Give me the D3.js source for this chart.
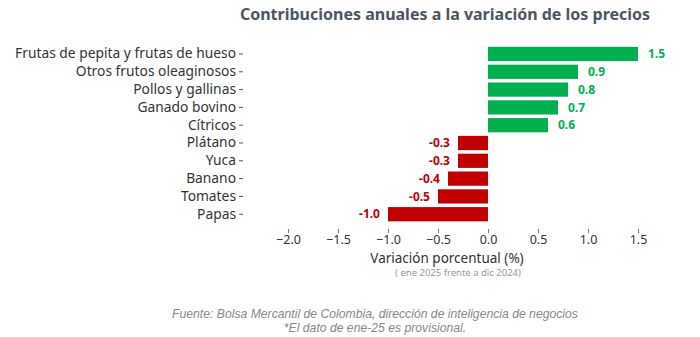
<!DOCTYPE html>
<html>
<head>
<meta charset="utf-8">
<script src="https://cdn.jsdelivr.net/npm/d3@7"></script>
<style>
  body { margin: 0; background: #fff; }
  svg { display: block; font-family: "Noto Sans", sans-serif; }
</style>
</head>
<body>
<div id="chart"></div>
<script>
// contribuciones anuales, ene 2025 vs dic 2024
const categorias = [
  "Frutas de pepita y frutas de hueso", "Otros frutos oleaginosos", "Pollos y gallinas",
  "Ganado bovino", "Cítricos", "Plátano", "Yuca", "Banano", "Tomates", "Papas"
];
const valores = [1.5, 0.9, 0.8, 0.7, 0.6, -0.3, -0.3, -0.4, -0.5, -1.0];
const ticksX = [-2.0, -1.5, -1.0, -0.5, 0.0, 0.5, 1.0, 1.5];

const width = 700, height = 337;
const verde = "#00b04f", rojo = "#c00000";

const svg = d3.select("#chart").append("svg")
  .attr("width", width)
  .attr("height", height);

const x = d3.scaleLinear().domain([-2, 1.5]).range([288, 638]);
const y = d3.scaleBand().domain(categorias).range([43.3, 224.9]).padding(0.2);

// titulo
svg.append("text")
  .attr("x", 445).attr("y", 20)
  .attr("text-anchor", "middle")
  .attr("font-size", 16).attr("font-weight", "bold")
  .attr("fill", "#4b5565")
  .text("Contribuciones anuales a la variación de los precios");

// barras
svg.append("g")
  .selectAll("rect")
  .data(valores)
  .enter().append("rect")
  .attr("x", d => x(Math.min(0, d)))
  .attr("y", (d, i) => y(categorias[i]))
  .attr("width", d => Math.abs(x(d) - x(0)))
  .attr("height", y.bandwidth())
  .attr("fill", d => d >= 0 ? verde : rojo);

// etiquetas de valor (guion corto para negativos)
svg.append("g")
  .selectAll("text")
  .data(valores)
  .enter().append("text")
  .attr("x", d => d >= 0 ? x(d) + 10 : x(d) - 8)
  .attr("y", (d, i) => y(categorias[i]) + y.bandwidth() / 2)
  .attr("dy", "0.35em")
  .attr("text-anchor", d => d >= 0 ? "start" : "end")
  .attr("font-size", 12).attr("font-weight", "bold")
  .attr("fill", d => d >= 0 ? verde : rojo)
  .text(d => d3.format(".1f")(d).replace("−", "-"));

// eje y
const ejeY = svg.append("g")
  .attr("transform", "translate(243,0)")
  .call(d3.axisLeft(y).tickSize(4).tickPadding(3));
ejeY.select(".domain").remove();
ejeY.selectAll("line").attr("stroke", "#555");
ejeY.selectAll("text").attr("font-size", 13.8).attr("fill", "#333")
  .attr("font-family", "'Noto Sans', sans-serif");

// eje x
const ejeX = svg.append("g")
  .attr("transform", "translate(0,229)")
  .call(d3.axisBottom(x).tickValues(ticksX).tickSize(4).tickPadding(2)
    .tickFormat(d3.format(".1f")));
ejeX.select(".domain").remove();
ejeX.selectAll("line").attr("stroke", "#777");
ejeX.selectAll("text").attr("font-size", 12.5).attr("fill", "#333")
  .attr("font-family", "'Noto Sans', sans-serif");

svg.append("text")
  .attr("x", 447).attr("y", 263)
  .attr("text-anchor", "middle")
  .attr("font-size", 13.5).attr("fill", "#333")
  .text("Variación porcentual (%)");

svg.append("text")
  .attr("x", 458).attr("y", 275.5)
  .attr("text-anchor", "middle")
  .attr("font-size", 9.5).attr("fill", "#999")
  .text("( ene 2025 frente a dic 2024)");

// fuente
const pie = svg.append("g")
  .attr("font-family", "'Liberation Sans', sans-serif")
  .attr("font-size", 12.2).attr("font-style", "italic").attr("fill", "#888")
  .attr("text-anchor", "middle");
pie.append("text").attr("x", 375).attr("y", 318)
  .text("Fuente: Bolsa Mercantil de Colombia, dirección de inteligencia de negocios");
pie.append("text").attr("x", 375).attr("y", 332)
  .text("*El dato de ene-25 es provisional.");
</script>
</body>
</html>
